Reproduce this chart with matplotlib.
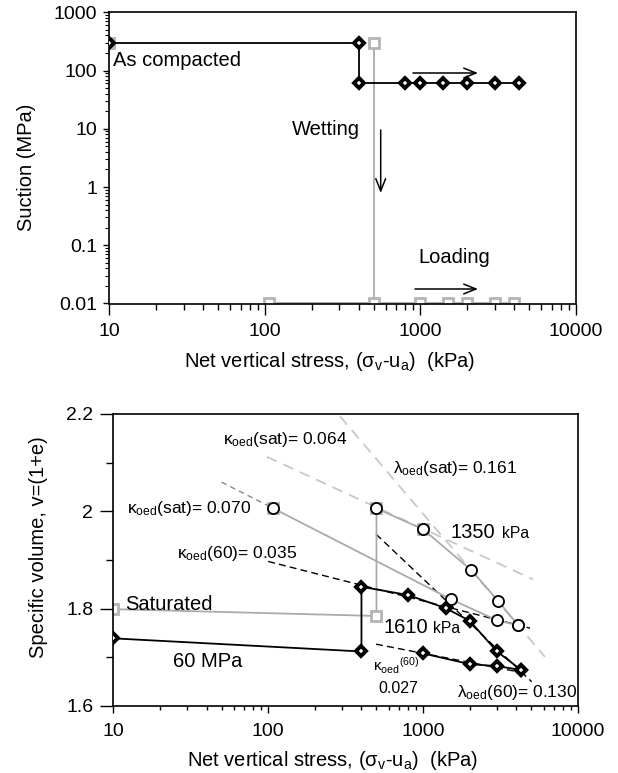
import matplotlib
matplotlib.use("Agg")
import matplotlib.pyplot as plt
from matplotlib.ticker import FixedLocator, FixedFormatter, LogLocator, NullFormatter, MultipleLocator

plt.rcParams['font.family'] = ['Liberation Sans', 'DejaVu Sans']
plt.rcParams['mathtext.fontset'] = 'custom'
plt.rcParams['mathtext.rm'] = 'Liberation Sans'
plt.rcParams['mathtext.it'] = 'Liberation Sans:italic'
plt.rcParams['mathtext.bf'] = 'Liberation Sans:bold'

# ---------------- data : top (suction path) ----------------
top_comp_x = [10, 400, 400, 800, 1000, 1400, 2000, 3000, 4300]
top_comp_s = [300, 300, 60, 60, 60, 60, 60, 60, 60]
top_sat_start_x = [10]
top_sat_start_s = [300]
top_sat_x = [500, 500, 106, 1000, 1500, 2000, 3000, 4000]
top_sat_s = [300, 0.01, 0.01, 0.01, 0.01, 0.01, 0.01, 0.01]

# ---------------- data : bottom (specific volume) ----------------
b60_x = [10, 400, 400, 800, 1400, 2000, 3000, 4300]
b60_v = [1.739, 1.712, 1.845, 1.828, 1.801, 1.775, 1.712, 1.674]
b60_unl_x = [1000, 2000, 3000, 4300]
b60_unl_v = [1.708, 1.686, 1.682, 1.674]

bsat_x = [10, 500, 500]
bsat_v = [1.799, 1.785, 2.006]
bsat_extra_x = [108, 1000]
bsat_extra_v = [2.006, 1.963]

c1350_x = [500, 1000, 2050, 3050, 4100]
c1350_v = [2.006, 1.963, 1.879, 1.816, 1.766]
c1610_x = [108, 1520, 3000, 4100]
c1610_v = [2.006, 1.819, 1.776, 1.766]

# reference slope lines (endpoints)
k60_035_x = [100, 4900]
k60_035_v = [1.897, 1.760]
l60_130_x = [497, 5020]
l60_130_v = [1.953, 1.650]
k60_027_x = [497, 4300]
k60_027_v = [1.727, 1.669]
lsat_161_x = [291, 6120]
lsat_161_v = [2.195, 1.701]
ksat_064_x = [98, 5140]
ksat_064_v = [2.112, 1.860]
ksat_070_x = [50, 108]
ksat_070_v = [2.060, 2.006]

xticks = [10, 100, 1000, 10000]
xticklabels = ['10', '100', '1000', '10000']
top_yticks = [0.01, 0.1, 1, 10, 100, 1000]
top_yticklabels = ['0.01', '0.1', '1', '10', '100', '1000']
bot_yticks = [1.6, 1.8, 2.0, 2.2]
bot_yticklabels = ['1.6', '1.8', '2', '2.2']

W, H = 618, 773
fig = plt.figure(figsize=(W / 100, H / 100), dpi=100)

# axes boxes in pixel units
TL, TR, TT, TB = 109.3, 576.0, 12.3, 303.5
BL, BR, BT, BB = 113.3, 578.0, 414.0, 706.0
ax1 = fig.add_axes([TL / W, 1 - TB / H, (TR - TL) / W, (TB - TT) / H])
ax2 = fig.add_axes([BL / W, 1 - BB / H, (BR - BL) / W, (BB - BT) / H])


def tp(px, py):
    return ((px - TL) / (TR - TL), 1 - (py - TT) / (TB - TT))


def bp(px, py):
    return ((px - BL) / (BR - BL), 1 - (py - BT) / (BB - BT))


GREY = '#aaaaaa'
GREY_MK = '#b4b4b4'
LIGHT = '#c8c8c8'
MID = '#8a8a8a'

dia = dict(marker='D', markersize=5.4, markerfacecolor='white', markeredgecolor='black', markeredgewidth=2.8)
sq = dict(marker='s', markersize=6.5, markerfacecolor='white', markeredgecolor=GREY_MK, markeredgewidth=2.0)
circ = dict(marker='o', markersize=8, markerfacecolor='white', markeredgecolor='black', markeredgewidth=1.3)

# ---------------- top plot ----------------
ax1.set_xscale('log')
ax1.set_yscale('log')
ax1.plot(top_sat_start_x, top_sat_start_s, linestyle='none', zorder=2, **sq)
ax1.plot(top_sat_x, top_sat_s, color=GREY, lw=1.3, zorder=2, **sq)
ax1.plot(top_comp_x, top_comp_s, color='black', lw=1.3, zorder=3, **dia)
ax1.set_xlim(10, 10000)
ax1.set_ylim(0.01, 1000)

ax1.xaxis.set_major_locator(FixedLocator(xticks))
ax1.xaxis.set_major_formatter(FixedFormatter(xticklabels))
ax1.xaxis.set_minor_locator(LogLocator(base=10, subs=range(2, 10), numticks=20))
ax1.xaxis.set_minor_formatter(NullFormatter())
ax1.yaxis.set_major_locator(FixedLocator(top_yticks))
ax1.yaxis.set_major_formatter(FixedFormatter(top_yticklabels))
ax1.yaxis.set_minor_locator(LogLocator(base=10, subs=range(2, 10), numticks=20))
ax1.yaxis.set_minor_formatter(NullFormatter())
ax1.tick_params(axis='x', which='major', direction='out', length=8, width=1, labelsize=14, pad=6)
ax1.tick_params(axis='x', which='minor', direction='out', length=4, width=1)
ax1.tick_params(axis='y', which='major', direction='out', length=4.5, width=1, labelsize=14, pad=4)
ax1.tick_params(axis='y', which='minor', direction='out', length=3, width=0.8)
for s in ax1.spines.values():
    s.set_linewidth(1.2)

txt = dict(fontsize=14.5, va='baseline', ha='left')
ax1.text(*tp(113.3, 65.7), 'As compacted', transform=ax1.transAxes, **txt)
ax1.text(*tp(291.7, 135), 'Wetting', transform=ax1.transAxes, **txt)
ax1.text(*tp(418.3, 263.3), 'Loading', transform=ax1.transAxes, **txt)

arr = dict(arrowstyle='->,head_length=0.55,head_width=0.22', color='black', lw=1.1, mutation_scale=16,
           shrinkA=0, shrinkB=0)
ax1.annotate('', xy=tp(478, 73), xytext=tp(413, 73), xycoords='axes fraction', textcoords='axes fraction', arrowprops=arr)
ax1.annotate('', xy=tp(380.7, 193), xytext=tp(380.7, 130), xycoords='axes fraction', textcoords='axes fraction', arrowprops=arr)
ax1.annotate('', xy=tp(478, 289), xytext=tp(415, 289), xycoords='axes fraction', textcoords='axes fraction', arrowprops=arr)

fig.text(26 / W, 1 - 167 / H, 'Suction (MPa)', rotation=90, ha='center', va='center', fontsize=14.5)
fig.text(330 / W, 1 - 361.7 / H, r'Net vertical stress, ($\mathregular{\sigma_{v}}$-u$\mathregular{_{a}}$)  (kPa)',
         ha='center', va='center', fontsize=14.5)

# ---------------- bottom plot ----------------
ax2.set_xscale('log')
ax2.plot(lsat_161_x, lsat_161_v, color=LIGHT, lw=1.3, linestyle=(0, (6, 4)), zorder=1)
ax2.plot(ksat_064_x, ksat_064_v, color=LIGHT, lw=1.3, linestyle=(0, (6, 4)), zorder=1)
ax2.plot(ksat_070_x, ksat_070_v, color=MID, lw=1.0, linestyle=(0, (4, 3)), zorder=1)
ax2.plot(k60_035_x, k60_035_v, color='black', lw=1.0, linestyle=(0, (5, 3)), zorder=1)
ax2.plot(l60_130_x, l60_130_v, color='black', lw=1.0, linestyle=(0, (5, 3)), zorder=1)
ax2.plot(k60_027_x, k60_027_v, color='black', lw=1.0, linestyle=(0, (5, 3)), zorder=1)

ax2.plot(bsat_x, bsat_v, color=GREY, lw=1.3, zorder=2, **sq)
ax2.plot(bsat_extra_x, bsat_extra_v, linestyle='none', zorder=2, **sq)
ax2.plot(c1350_x, c1350_v, color=GREY, lw=1.3, zorder=3, **circ)
ax2.plot(c1610_x, c1610_v, color=GREY, lw=1.3, zorder=3, **circ)
ax2.plot(b60_unl_x, b60_unl_v, color='black', lw=1.3, zorder=4, **dia)
ax2.plot(b60_x, b60_v, color='black', lw=1.3, zorder=4, **dia)

ax2.set_xlim(10, 10000)
ax2.set_ylim(1.6, 2.2)
ax2.xaxis.set_major_locator(FixedLocator(xticks))
ax2.xaxis.set_major_formatter(FixedFormatter(xticklabels))
ax2.xaxis.set_minor_locator(LogLocator(base=10, subs=range(2, 10), numticks=20))
ax2.xaxis.set_minor_formatter(NullFormatter())
ax2.yaxis.set_major_locator(FixedLocator(bot_yticks))
ax2.yaxis.set_major_formatter(FixedFormatter(bot_yticklabels))
ax2.yaxis.set_minor_locator(MultipleLocator(0.1))
ax2.tick_params(axis='x', which='major', direction='out', length=5, width=1, labelsize=14, pad=7)
ax2.tick_params(axis='x', which='minor', direction='out', length=3, width=1)
ax2.tick_params(axis='y', which='major', direction='out', length=9.5, width=1, labelsize=14, pad=5)
ax2.tick_params(axis='y', which='minor', direction='out', length=5, width=1)
for s in ax2.spines.values():
    s.set_linewidth(1.2)

lab = dict(va='baseline', ha='left', transform=ax2.transAxes)
ax2.text(*bp(223.3, 444.3), r'$\mathregular{\kappa_{oed}}$(sat)= 0.064', fontsize=12.5, **lab)
ax2.text(*bp(393.3, 473.3), r'$\mathregular{\lambda_{oed}}$(sat)= 0.161', fontsize=12.5, **lab)
ax2.text(*bp(126.7, 513.3), r'$\mathregular{\kappa_{oed}}$(sat)= 0.070', fontsize=12.5, **lab)
ax2.text(*bp(176.7, 558.3), r'$\mathregular{\kappa_{oed}}$(60)= 0.035', fontsize=12.5, **lab)
ax2.text(*bp(456.7, 697.3), r'$\mathregular{\lambda_{oed}}$(60)= 0.130', fontsize=12.5, **lab)
ax2.text(*bp(373.3, 671.7), r'$\mathregular{\kappa_{oed}{}^{(60)}}$', fontsize=11, **lab)
ax2.text(*bp(378.3, 692.7), '0.027', fontsize=11.5, **lab)
ax2.text(*bp(450, 538.3), '1350', fontsize=14.5, **lab)
ax2.text(*bp(501.7, 538.3), 'kPa', fontsize=11.3, **lab)
ax2.text(*bp(383.3, 633.3), '1610', fontsize=14.5, **lab)
ax2.text(*bp(433.3, 633.3), 'kPa', fontsize=11.3, **lab)
ax2.text(*bp(125, 610), 'Saturated', fontsize=14.5, **lab)
ax2.text(*bp(173.3, 666.7), '60 MPa', fontsize=14.5, **lab)

fig.text(39 / W, 1 - 547 / H, 'Specific volume, v=(1+e)', rotation=90, ha='center', va='center', fontsize=14.5)
fig.text(333 / W, 1 - 760 / H, r'Net vertical stress, ($\mathregular{\sigma_{v}}$-u$\mathregular{_{a}}$)  (kPa)',
         ha='center', va='center', fontsize=14.5)

fig.savefig('out.png', dpi=100)
